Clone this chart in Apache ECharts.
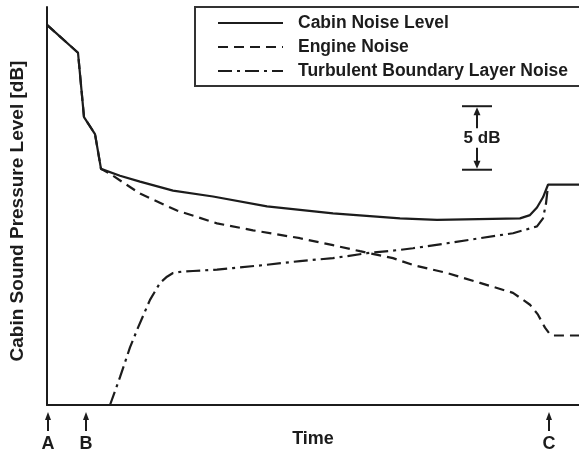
<!DOCTYPE html>
<html><head><meta charset="utf-8">
<script src="https://cdn.jsdelivr.net/npm/echarts@6/dist/echarts.min.js"></script>
<style>html,body{margin:0;padding:0;background:#fff}#c{width:579px;height:453px}</style>
</head><body><div id="c"></div>
<script>
// Time in arbitrary units, level in dB (relative)
const seriesNames = ['Cabin Noise Level', 'Engine Noise', 'Turbulent Boundary Layer Noise'];
const cabinNoise = [[0,29.92],[3.1,27.73],[3.7,22.66],[4.8,21.33],[5.4,18.59],[7.3,18.05],[9.3,17.58],[12.6,16.88],[16.6,16.41],[22.0,15.63],[28.6,15.08],[35.3,14.69],[39.0,14.57],[47.3,14.69],[48.3,14.95],[49.0,15.55],[49.6,16.35],[50.1,17.34],[53.2,17.34]];
const engineNoise = [[0,29.92],[3.1,27.73],[3.7,22.66],[4.8,21.33],[5.4,18.59],[6.3,18.2],[9.3,16.64],[13.0,15.31],[17.0,14.30],[20.6,13.75],[25.3,13.13],[28.6,12.58],[31.3,12.11],[34.6,11.56],[36.6,11.02],[40.0,10.39],[43.3,9.61],[46.6,8.83],[48.3,7.89],[49.1,7.11],[49.8,6.09],[50.3,5.55],[50.6,5.47],[53.2,5.47]];
const turbulentNoise = [[6.3,0],[7.3,2.19],[8.3,4.53],[9.1,6.09],[10.3,8.28],[11.3,9.61],[12.0,10.1],[12.6,10.39],[13.5,10.5],[14.6,10.55],[17.0,10.66],[18.6,10.78],[22.0,11.04],[25.3,11.33],[28.6,11.56],[32.0,11.95],[35.3,12.21],[36.6,12.34],[40.0,12.73],[43.3,13.13],[46.6,13.52],[49.0,14.06],[49.6,14.69],[49.9,15.86],[50.1,17.27]];
const markTimes = [0, 3.8, 50.1];
const markLabels = ['A', 'B', 'C'];
const scaleBar = [[43.0, 18.52, 23.52]]; // time, low dB, high dB (5 dB span)
const scaleBarLabel = '5 dB';

const INK = '#1c1c1c';
const FONT = 'Liberation Sans, Arial, sans-serif';

const chart = echarts.init(document.getElementById('c'));
chart.setOption({
  animation: false,
  backgroundColor: '#fff',
  grid: { left: 47, right: 0, top: 7, bottom: 45 },
  xAxis: {
    type: 'value', min: 0, max: 53.2,
    name: 'Time', nameLocation: 'middle', nameGap: 25,
    nameTextStyle: { fontFamily: FONT, fontWeight: 'bold', fontSize: 18, color: INK },
    axisLine: { lineStyle: { color: INK, width: 2 } },
    axisTick: { show: false }, axisLabel: { show: false }, splitLine: { show: false }
  },
  yAxis: {
    type: 'value', min: 0, max: 31.33,
    name: 'Cabin Sound Pressure Level [dB]', nameLocation: 'middle', nameGap: 20,
    nameTextStyle: { fontFamily: FONT, fontWeight: 'bold', fontSize: 19, color: INK, padding: [0, 10, 0, 0] },
    axisLine: { show: true, lineStyle: { color: INK, width: 2 } },
    axisTick: { show: false }, axisLabel: { show: false }, splitLine: { show: false }
  },
  legend: {
    data: seriesNames,
    orient: 'vertical', left: 195, top: 7,
    padding: [7, 24, 6, 22],
    itemWidth: 65, itemHeight: 14, itemGap: 6,
    borderColor: '#333', borderWidth: 2,
    itemStyle: { color: 'rgba(0,0,0,0)', borderColor: 'rgba(0,0,0,0)', borderWidth: 0 },
    textStyle: { fontFamily: FONT, fontWeight: 'bold', fontSize: 17.5, color: INK, padding: [0, 0, 0, 10] }
  },
  series: [
    { name: seriesNames[0], type: 'line', data: cabinNoise, showSymbol: false, symbol: 'none', z: 5,
      lineStyle: { color: INK, width: 2.2, type: 'solid' }, itemStyle: { color: INK } },
    { name: seriesNames[1], type: 'line', data: engineNoise, showSymbol: false, symbol: 'none', z: 4,
      lineStyle: { color: INK, width: 2.2, type: [10, 6] }, itemStyle: { color: INK } },
    { name: seriesNames[2], type: 'line', data: turbulentNoise, showSymbol: false, symbol: 'none', z: 4,
      lineStyle: { color: INK, width: 2.2, type: [14, 5, 3, 5] }, itemStyle: { color: INK } },
    { type: 'custom', data: scaleBar, clip: false, silent: true, z: 6,
      renderItem(params, api) {
        const t = api.value(0);
        const lo = api.coord([t, api.value(1)]);
        const hi = api.coord([t, api.value(2)]);
        const x = lo[0], yLo = lo[1], yHi = hi[1];
        const st = { stroke: INK, lineWidth: 2 };
        return { type: 'group', children: [
          { type: 'line', shape: { x1: x - 15, y1: yHi, x2: x + 15, y2: yHi }, style: st },
          { type: 'line', shape: { x1: x - 15, y1: yLo, x2: x + 15, y2: yLo }, style: st },
          { type: 'line', shape: { x1: x, y1: yHi + 6, x2: x, y2: yHi + 22 }, style: st },
          { type: 'polygon', shape: { points: [[x, yHi + 1], [x - 3.5, yHi + 9], [x + 3.5, yHi + 9]] }, style: { fill: INK } },
          { type: 'line', shape: { x1: x, y1: yLo - 22, x2: x, y2: yLo - 6 }, style: st },
          { type: 'polygon', shape: { points: [[x, yLo - 1], [x - 3.5, yLo - 9], [x + 3.5, yLo - 9]] }, style: { fill: INK } },
          { type: 'text', style: { text: scaleBarLabel, x: x + 5, y: (yHi + yLo) / 2, align: 'center', verticalAlign: 'middle',
              font: 'bold 17px ' + FONT, fill: INK } }
        ] };
      } },
    { type: 'custom', data: markTimes.map(t => [t, 0]), clip: false, silent: true, z: 6,
      renderItem(params, api) {
        const p = api.coord([api.value(0), api.value(1)]);
        const x = p[0] + 1, y = p[1];
        return { type: 'group', children: [
          { type: 'line', shape: { x1: x, y1: y + 12, x2: x, y2: y + 26 }, style: { stroke: INK, lineWidth: 2 } },
          { type: 'polygon', shape: { points: [[x, y + 7], [x - 3, y + 15], [x + 3, y + 15]] }, style: { fill: INK } },
          { type: 'text', style: { text: markLabels[params.dataIndex], x: x, y: y + 39, align: 'center', verticalAlign: 'middle',
              font: 'bold 18px ' + FONT, fill: INK } }
        ] };
      } }
  ]
});
</script>
</body></html>
